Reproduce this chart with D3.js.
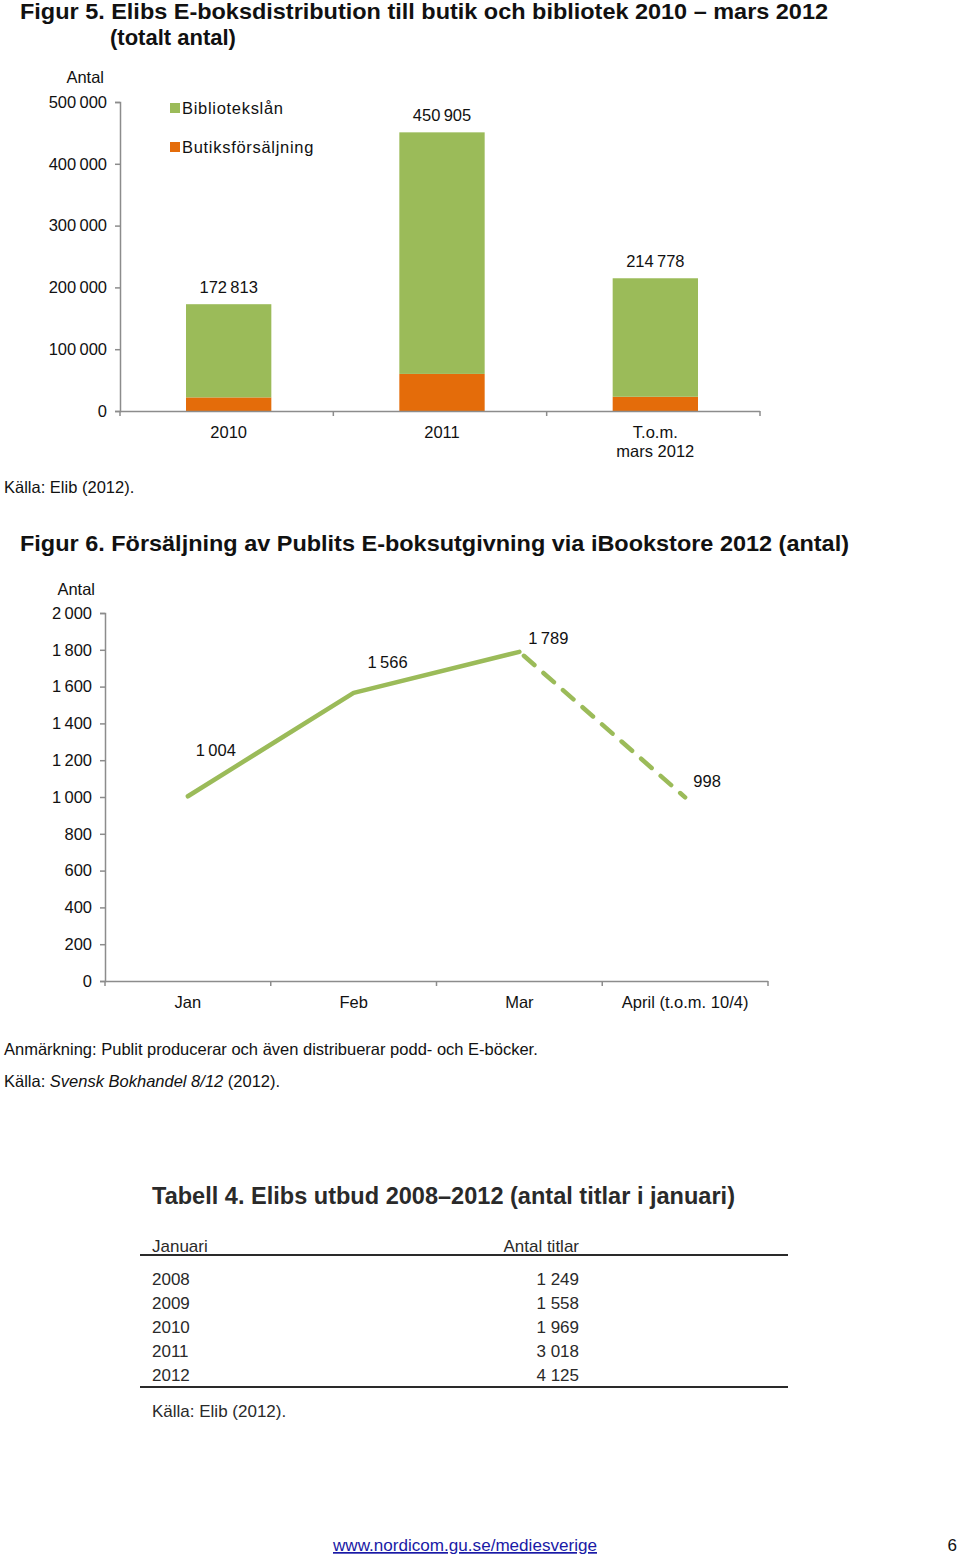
<!DOCTYPE html>
<html><head><meta charset="utf-8">
<script src="https://cdn.jsdelivr.net/npm/d3@7"></script>
<style>
body{margin:0;background:#fff;}
svg{display:block;font-family:"Liberation Sans",Arial,sans-serif;}
</style></head><body>
<svg id="c" width="960" height="1555"></svg>
<script>
// ---- Figure 5 data ----
const barCategories = ["2010", "2011", "T.o.m.|mars 2012"];
const barTotals = [172813, 450905, 214778];
const shopSales = [22000, 60000, 23000];           // Butiksförsäljning
const libraryLoans = barTotals.map((t,i)=>t-shopSales[i]); // Bibliotekslån
const barTickValues = [0,100000,200000,300000,400000,500000];
const seriesNames = ["Bibliotekslån","Butiksförsäljning"];

// ---- Figure 6 data ----
const months = ["Jan","Feb","Mar","April (t.o.m. 10/4)"];
const sales = [1004, 1566, 1789, 998];
const lineTickValues = [0,200,400,600,800,1000,1200,1400,1600,1800,2000];

// ---- Table 4 data ----
const tableYears = ["2008","2009","2010","2011","2012"];
const tableTitles = [1249, 1558, 1969, 3018, 4125];

const GREEN = "#9BBB59", ORANGE = "#E46C0A", AXIS = "#8c8c8c", TXT = "#111";
const svg = d3.select("#c");
const fmt = v => d3.format(",")(v).replace(/,/g, "\u2009");
const fmtSp = v => d3.format(",")(v).replace(/,/g, " ");

// ===== Titles =====
svg.append("text").attr("x",20).attr("y",19).attr("font-weight","bold").attr("font-size",22).attr("fill",TXT)
  .attr("textLength",808).attr("lengthAdjust","spacingAndGlyphs")
  .text("Figur 5. Elibs E-boksdistribution till butik och bibliotek 2010 \u2013 mars 2012");
svg.append("text").attr("x",110).attr("y",45).attr("font-weight","bold").attr("font-size",22).attr("fill",TXT)
  .text("(totalt antal)");

// ===== Figure 5: stacked bars =====
const bx = d3.scaleBand().domain(barCategories).range([122,762]).paddingInner(0.6).paddingOuter(0.3);
const by = d3.scaleLinear().domain([0,500000]).range([411,102]);
const g5 = svg.append("g");

const yAx5 = g5.append("g").attr("transform","translate(120,0)")
  .call(d3.axisLeft(by).tickValues(barTickValues).tickSize(5).tickPadding(8).tickFormat(fmt));
yAx5.selectAll("path,line").attr("stroke",AXIS).attr("stroke-width",1.5);
yAx5.selectAll("text").attr("font-size",16.5).attr("fill",TXT).attr("font-family","Liberation Sans, Arial, sans-serif");
g5.append("text").attr("x",104).attr("y",83).attr("text-anchor","end").attr("font-size",16.5).attr("fill",TXT).text("Antal");

const stackData = barCategories.map((c,i)=>({cat:c, shop:shopSales[i], lib:libraryLoans[i], total:barTotals[i]}));
const stack = d3.stack().keys(["shop","lib"])(stackData);
const colors = {shop:ORANGE, lib:GREEN};
stack.forEach(s=>{
  g5.append("g").attr("fill",colors[s.key]).selectAll("rect").data(s).join("rect")
    .attr("x",d=>bx(d.data.cat)).attr("width",bx.bandwidth())
    .attr("y",d=>by(d[1])).attr("height",d=>by(d[0])-by(d[1]));
});
// x axis
const xb0 = 120, xb1 = 760, stepB = (xb1-xb0)/barCategories.length;
g5.append("line").attr("x1",xb0).attr("x2",xb1).attr("y1",411.5).attr("y2",411.5).attr("stroke",AXIS).attr("stroke-width",1.5);
d3.range(barCategories.length+1).forEach(i=>{
  g5.append("line").attr("x1",xb0+i*stepB).attr("x2",xb0+i*stepB).attr("y1",411).attr("y2",416).attr("stroke",AXIS).attr("stroke-width",1.5);
});
barCategories.forEach(c=>{
  const lines = c.split("|");
  const t = g5.append("text").attr("text-anchor","middle").attr("font-size",16.5).attr("fill",TXT);
  lines.forEach((l,j)=>t.append("tspan").attr("x",bx(c)+bx.bandwidth()/2).attr("y",438+j*19).text(l));
});
// value labels
stackData.forEach(d=>{
  g5.append("text").attr("x",bx(d.cat)+bx.bandwidth()/2).attr("y",by(d.total)-11).attr("text-anchor","middle")
    .attr("font-size",16.5).attr("fill",TXT).text(fmt(d.total));
});
// legend
seriesNames.forEach((n,i)=>{
  const y = 108+i*39;
  g5.append("rect").attr("x",170).attr("y",y-5).attr("width",10).attr("height",10).attr("fill",i===0?GREEN:ORANGE);
  g5.append("text").attr("x",182).attr("y",y+6).attr("font-size",16.5).attr("fill",TXT).attr("letter-spacing",0.7).text(n);
});
svg.append("text").attr("x",4).attr("y",493).attr("font-size",16.5).attr("fill",TXT).text("Källa: Elib (2012).");

// ===== Figure 6 =====
svg.append("text").attr("x",20).attr("y",551).attr("font-weight","bold").attr("font-size",22).attr("fill",TXT)
  .attr("textLength",829).attr("lengthAdjust","spacingAndGlyphs")
  .text("Figur 6. Försäljning av Publits E-boksutgivning via iBookstore 2012 (antal)");

const lx = d3.scaleBand().domain(months).range([105,768]);
const ly = d3.scaleLinear().domain([0,2000]).range([981,613]);
const g6 = svg.append("g");
const yAx6 = g6.append("g").attr("transform","translate(105,0)")
  .call(d3.axisLeft(ly).tickValues(lineTickValues).tickSize(5).tickPadding(8).tickFormat(fmt));
yAx6.selectAll("path,line").attr("stroke",AXIS).attr("stroke-width",1.5);
yAx6.selectAll("text").attr("font-size",16.5).attr("fill",TXT).attr("font-family","Liberation Sans, Arial, sans-serif");
g6.append("text").attr("x",95).attr("y",595).attr("text-anchor","end").attr("font-size",16.5).attr("fill",TXT).text("Antal");

g6.append("line").attr("x1",105).attr("x2",768).attr("y1",981.5).attr("y2",981.5).attr("stroke",AXIS).attr("stroke-width",1.5);
d3.range(months.length+1).forEach(i=>{
  const x = 105 + i*lx.step();
  g6.append("line").attr("x1",x).attr("x2",x).attr("y1",981).attr("y2",986).attr("stroke",AXIS).attr("stroke-width",1.5);
});
months.forEach(m=>{
  g6.append("text").attr("x",lx(m)+lx.bandwidth()/2).attr("y",1008).attr("text-anchor","middle").attr("font-size",16.5).attr("fill",TXT).text(m);
});
const pts = months.map((m,i)=>[lx(m)+lx.bandwidth()/2, ly(sales[i])]);
const line = d3.line();
g6.append("path").attr("d",line(pts.slice(0,3))).attr("fill","none").attr("stroke",GREEN).attr("stroke-width",4.5)
  .attr("stroke-linejoin","round").attr("stroke-linecap","round");
g6.append("path").attr("d",line(pts.slice(2,4))).attr("fill","none").attr("stroke",GREEN).attr("stroke-width",4.5)
  .attr("stroke-dasharray","14,12").attr("stroke-dashoffset",-6).attr("stroke-linecap","round");
const lblOff = [[28,-40],[34,-25],[29,-8],[22,-10]];
pts.forEach((p,i)=>{
  g6.append("text").attr("x",p[0]+lblOff[i][0]).attr("y",p[1]+lblOff[i][1]).attr("text-anchor","middle")
    .attr("font-size",16.5).attr("fill",TXT).text(fmt(sales[i]));
});
svg.append("text").attr("x",4).attr("y",1055).attr("font-size",16.5).attr("fill",TXT)
  .text("Anmärkning: Publit producerar och även distribuerar podd- och E-böcker.");
const src = svg.append("text").attr("x",4).attr("y",1087).attr("font-size",16.5).attr("fill",TXT);
src.append("tspan").text("Källa: ");
src.append("tspan").attr("font-style","italic").text("Svensk Bokhandel 8/12");
src.append("tspan").text(" (2012).");

// ===== Table 4 =====
const TF = "'Liberation Sans Narrow','Arial Narrow','Liberation Sans',sans-serif";
const TC = "#2a2a2a";
const gt = svg.append("g").attr("font-family",TF).attr("fill",TC);
gt.append("text").attr("x",152).attr("y",1204).attr("font-weight","bold").attr("font-size",24)
  .attr("textLength",583).attr("lengthAdjust","spacingAndGlyphs")
  .text("Tabell 4. Elibs utbud 2008\u20132012 (antal titlar i januari)");
gt.append("text").attr("x",152).attr("y",1252).attr("font-size",17).text("Januari");
gt.append("text").attr("x",579).attr("y",1252).attr("text-anchor","end").attr("font-size",17).text("Antal titlar");
gt.append("line").attr("x1",140).attr("x2",788).attr("y1",1255).attr("y2",1255).attr("stroke",TC).attr("stroke-width",2);
const rowY = d3.scalePoint().domain(tableYears).range([1285,1381]);
tableYears.forEach((y,i)=>{
  gt.append("text").attr("x",152).attr("y",rowY(y)).attr("font-size",17).text(y);
  gt.append("text").attr("x",579).attr("y",rowY(y)).attr("text-anchor","end").attr("font-size",17).text(fmtSp(tableTitles[i]));
});
gt.append("line").attr("x1",140).attr("x2",788).attr("y1",1387).attr("y2",1387).attr("stroke",TC).attr("stroke-width",2);
gt.append("text").attr("x",152).attr("y",1417).attr("font-size",17).text("Källa: Elib (2012).");

// ===== Footer =====
svg.append("text").attr("x",333).attr("y",1551).attr("font-size",17).attr("fill","#1a1aa6")
  .attr("text-decoration","underline").attr("textLength",264).attr("lengthAdjust","spacingAndGlyphs")
  .text("www.nordicom.gu.se/mediesverige");
svg.append("text").attr("x",957).attr("y",1551).attr("text-anchor","end").attr("font-size",17).attr("fill",TXT).text("6");
</script>
</body></html>
